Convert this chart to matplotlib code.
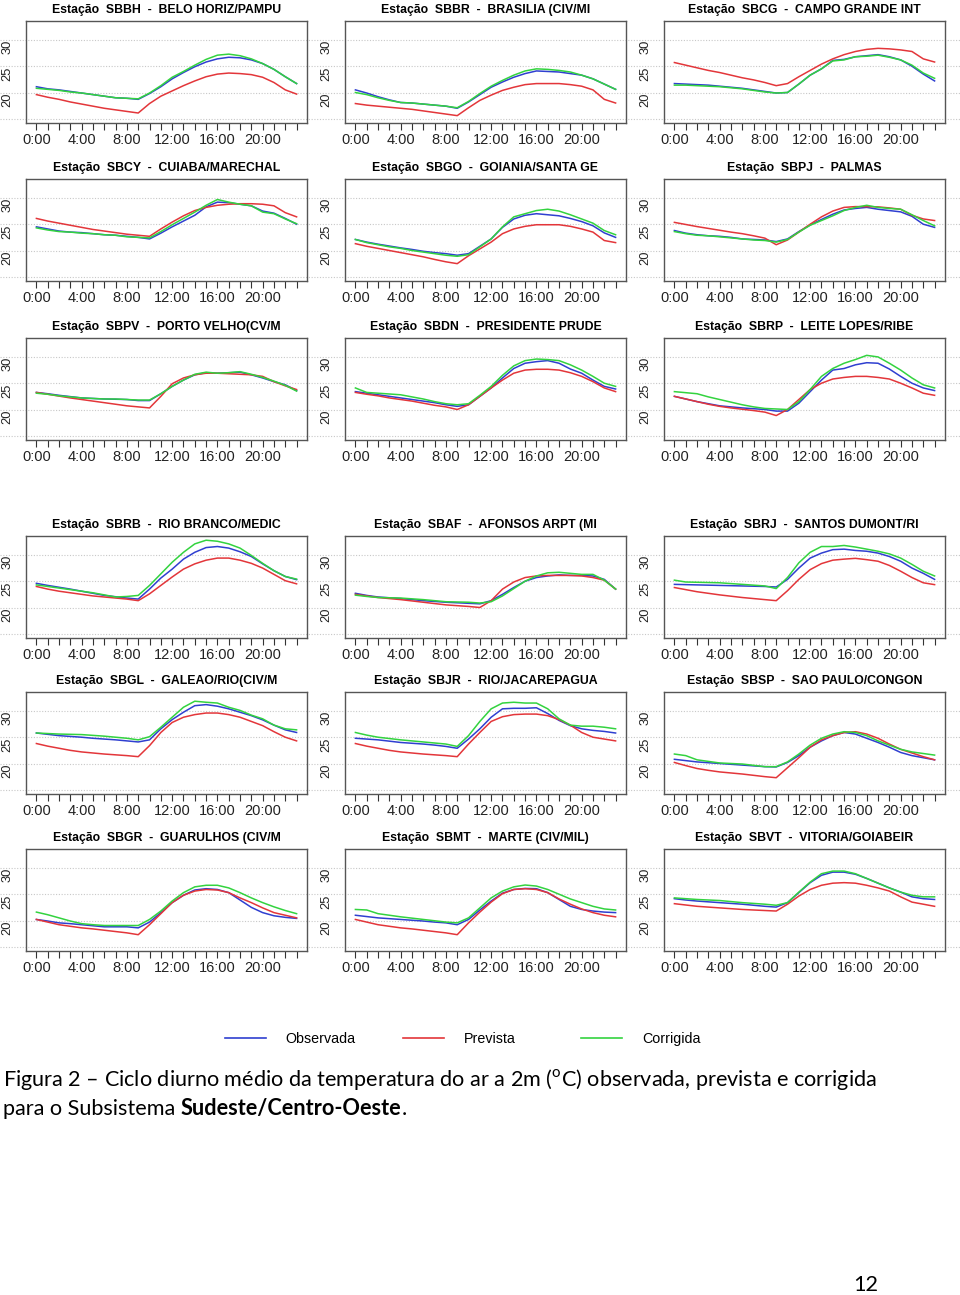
import matplotlib
matplotlib.use("Agg")
import matplotlib.pyplot as plt
import matplotlib.font_manager as fm
from matplotlib.transforms import blended_transform_factory
from matplotlib.lines import Line2D

# ---------------- data ----------------
HOURS = list(range(24))
HOUR_LABELS = [f"{h}:00" if h % 4 == 0 else "" for h in HOURS]
Y_TICKS = [20, 25, 30]
GRID_LEVELS = [16.3, 21.3, 26.4, 31.4]

TITLES = [
    "Estação  SBBH  -  BELO HORIZ/PAMPU", "Estação  SBBR  -  BRASILIA (CIV/MI", "Estação  SBCG  -  CAMPO GRANDE INT",
    "Estação  SBCY  -  CUIABA/MARECHAL", "Estação  SBGO  -  GOIANIA/SANTA GE", "Estação  SBPJ  -  PALMAS",
    "Estação  SBPV  -  PORTO VELHO(CV/M", "Estação  SBDN  -  PRESIDENTE PRUDE", "Estação  SBRP  -  LEITE LOPES/RIBE",
    "Estação  SBRB  -  RIO BRANCO/MEDIC", "Estação  SBAF  -  AFONSOS ARPT (MI", "Estação  SBRJ  -  SANTOS DUMONT/RI",
    "Estação  SBGL  -  GALEAO/RIO(CIV/M", "Estação  SBJR  -  RIO/JACAREPAGUA", "Estação  SBSP  -  SAO PAULO/CONGON",
    "Estação  SBGR  -  GUARULHOS (CIV/M", "Estação  SBMT  -  MARTE (CIV/MIL)", "Estação  SBVT  -  VITORIA/GOIABEIR",
]
SERIES_NAMES = ["Observada", "Prevista", "Corrigida"]

SBBH_OBS = [22.5,22.1,21.9,21.6,21.3,21.0,20.7,20.4,20.3,20.1,21.2,22.5,24.0,25.2,26.3,27.2,27.8,28.1,28.0,27.6,26.9,25.8,24.4,23.1]
SBBH_PREV = [21.0,20.5,20.1,19.6,19.2,18.8,18.4,18.1,17.8,17.5,19.3,20.7,21.7,22.7,23.6,24.4,24.9,25.1,25.0,24.8,24.3,23.3,21.9,21.1]
SBBH_CORR = [22.2,22.0,21.8,21.5,21.3,21.0,20.7,20.4,20.3,20.2,21.3,22.7,24.3,25.4,26.6,27.7,28.5,28.7,28.4,27.8,26.9,25.8,24.4,23.1]

SBBR_OBS = [21.9,21.3,20.6,20.0,19.5,19.4,19.2,19.0,18.8,18.4,19.6,21.0,22.4,23.4,24.3,25.0,25.5,25.4,25.3,25.0,24.7,24.0,23.0,22.0]
SBBR_PREV = [19.3,19.0,18.8,18.6,18.4,18.2,17.9,17.6,17.3,17.0,18.5,19.9,20.9,21.8,22.4,22.9,23.1,23.1,23.1,22.9,22.6,21.9,20.1,19.4]
SBBR_CORR = [21.4,21.0,20.4,19.9,19.5,19.4,19.2,19.0,18.8,18.5,19.7,21.2,22.6,23.7,24.7,25.5,25.9,25.8,25.6,25.3,24.7,24.0,23.0,22.0]

SBCG_OBS = [23.1,23.0,22.9,22.8,22.6,22.4,22.2,21.9,21.6,21.3,21.4,23.0,24.7,25.9,27.5,27.7,28.2,28.4,28.6,28.2,27.6,26.4,24.9,23.6]
SBCG_PREV = [27.1,26.6,26.1,25.6,25.2,24.7,24.2,23.8,23.3,22.7,23.1,24.4,25.6,26.8,27.8,28.6,29.2,29.6,29.8,29.7,29.5,29.2,27.8,27.2]
SBCG_CORR = [22.8,22.8,22.7,22.6,22.5,22.3,22.1,21.8,21.5,21.3,21.4,23.0,24.7,25.9,27.4,27.6,28.2,28.3,28.5,28.1,27.6,26.6,25.1,24.1]

SBCY_OBS = [25.9,25.5,25.1,24.9,24.8,24.6,24.4,24.3,24.1,23.9,23.6,24.7,25.9,27.0,28.1,29.7,30.6,30.5,30.2,29.9,28.9,28.5,27.5,26.4]
SBCY_PREV = [27.5,27.0,26.6,26.2,25.8,25.4,25.1,24.8,24.5,24.3,24.1,25.5,26.8,28.0,29.0,29.6,30.0,30.2,30.3,30.3,30.2,29.9,28.6,27.8]
SBCY_CORR = [25.7,25.3,25.0,24.9,24.7,24.6,24.4,24.3,24.0,23.9,23.8,25.0,26.3,27.5,28.7,30.0,31.1,30.6,30.2,29.9,28.7,28.4,27.4,26.5]

SBGO_OBS = [23.5,23.0,22.6,22.25,21.9,21.6,21.25,21.0,20.8,20.5,20.8,22.2,23.6,25.8,27.4,28.1,28.4,28.2,28.0,27.5,26.9,26.1,24.75,23.9]
SBGO_PREV = [22.7,22.2,21.8,21.4,21.0,20.6,20.2,19.7,19.25,18.9,20.4,21.7,23.0,24.6,25.5,26.0,26.3,26.3,26.3,26.0,25.5,24.9,23.3,22.9]
SBGO_CORR = [23.5,22.9,22.5,22.1,21.8,21.4,21.1,20.8,20.5,20.3,20.6,22.1,23.6,25.9,27.8,28.4,29.0,29.25,28.9,28.2,27.4,26.6,25.2,24.4]

SBPJ_OBS = [25.2,24.7,24.4,24.2,24.1,23.9,23.6,23.5,23.4,23.1,23.6,25.0,26.25,27.3,28.3,29.1,29.4,29.6,29.25,29.0,28.75,27.9,26.4,25.8]
SBPJ_PREV = [26.75,26.35,25.95,25.6,25.25,24.9,24.6,24.2,23.75,22.5,23.4,24.9,26.4,27.8,28.9,29.6,29.75,29.75,29.7,29.5,29.25,28.1,27.4,27.1]
SBPJ_CORR = [25.0,24.6,24.3,24.2,24.0,23.8,23.6,23.4,23.3,23.0,23.5,24.9,26.2,27.1,28.0,29.0,29.6,30.0,29.6,29.4,29.25,28.2,27.1,26.1]

SBPV_OBS = [24.65,24.4,24.1,23.85,23.6,23.5,23.4,23.35,23.3,23.1,23.1,24.4,25.8,27.0,28.0,28.4,28.3,28.4,28.5,28.0,27.4,26.7,26.1,25.0]
SBPV_PREV = [24.65,24.3,23.95,23.6,23.3,23.0,22.7,22.4,22.1,21.9,21.7,23.9,26.3,27.4,28.0,28.3,28.3,28.2,28.1,28.0,27.7,26.7,25.9,25.2]
SBPV_CORR = [24.5,24.3,24.0,23.8,23.6,23.5,23.4,23.4,23.3,23.2,23.2,24.4,25.8,27.0,28.1,28.5,28.3,28.4,28.6,28.1,27.5,26.8,26.0,24.9]

SBDN_OBS = [24.8,24.5,24.2,23.9,23.6,23.3,23.0,22.7,22.3,22.0,22.3,23.9,25.5,27.4,29.2,30.2,30.5,30.7,30.2,29.1,28.3,27.0,25.8,25.3]
SBDN_PREV = [24.65,24.3,24.0,23.6,23.3,23.0,22.6,22.2,21.9,21.4,22.3,23.9,25.5,27.0,28.3,28.9,29.05,29.05,28.9,28.4,27.7,26.7,25.5,24.8]
SBDN_CORR = [25.5,24.65,24.5,24.35,24.2,23.8,23.4,22.9,22.5,22.3,22.5,24.1,25.8,27.9,29.7,30.7,31.0,30.9,30.7,29.9,28.9,27.7,26.4,25.8]

SBRP_OBS = [23.9,23.4,22.9,22.5,22.1,21.9,21.7,21.55,21.4,21.1,21.1,22.6,24.8,27.0,28.9,29.2,29.9,30.3,30.2,29.1,27.7,26.4,25.5,25.0]
SBRP_PREV = [23.9,23.4,22.9,22.4,22.0,21.7,21.45,21.2,20.9,20.25,21.4,23.3,25.2,26.4,27.2,27.5,27.7,27.7,27.5,27.2,26.4,25.5,24.5,24.1]
SBRP_CORR = [24.8,24.6,24.4,23.8,23.3,22.8,22.3,21.9,21.6,21.5,21.4,22.9,25.2,27.7,29.2,30.2,30.9,31.7,31.4,30.2,28.9,27.4,26.1,25.5]

SBRB_OBS = [26.0,25.6,25.25,24.9,24.5,24.1,23.7,23.45,23.2,23.0,24.9,27.0,28.7,30.6,31.9,32.8,33.0,32.7,32.0,31.1,29.7,28.4,27.3,26.7]
SBRB_PREV = [25.4,24.9,24.5,24.2,23.9,23.6,23.4,23.2,23.0,22.7,24.0,25.6,27.2,28.7,29.7,30.4,30.8,30.8,30.4,29.8,28.9,27.7,26.5,25.9]
SBRB_CORR = [25.7,25.4,25.1,24.8,24.5,24.2,23.8,23.4,23.5,23.7,25.6,27.8,30.0,31.9,33.5,34.2,34.0,33.5,32.7,31.3,29.8,28.4,27.3,26.8]

SBAF_OBS = [24.1,23.7,23.4,23.25,23.1,22.9,22.7,22.55,22.4,22.3,22.2,22.1,22.7,23.9,25.2,26.4,27.1,27.4,27.6,27.5,27.5,27.4,26.75,24.9]
SBAF_PREV = [23.9,23.6,23.3,23.1,22.9,22.65,22.4,22.15,21.9,21.75,21.6,21.4,22.7,24.9,26.25,27.1,27.4,27.5,27.5,27.5,27.4,27.1,26.6,24.9]
SBAF_CORR = [23.75,23.5,23.3,23.25,23.2,23.05,22.9,22.7,22.5,22.45,22.4,22.25,22.5,23.6,25.0,26.4,27.4,28.0,28.1,27.9,27.7,27.7,26.6,24.9]

SBRJ_OBS = [25.8,25.75,25.7,25.65,25.6,25.55,25.5,25.45,25.4,25.3,26.75,28.9,30.8,31.75,32.4,32.5,32.25,32.1,31.75,31.1,30.2,28.9,27.9,26.75]
SBRJ_PREV = [25.2,24.8,24.4,24.1,23.8,23.55,23.3,23.1,22.9,22.7,24.6,26.75,28.6,29.75,30.4,30.6,30.75,30.5,30.2,29.4,28.3,27.1,26.1,25.75]
SBRJ_CORR = [26.6,26.25,26.2,26.15,26.1,25.95,25.8,25.65,25.5,25.0,27.1,29.9,31.9,33.0,33.0,33.2,32.9,32.5,32.1,31.6,30.8,29.6,28.3,27.4]

SBGL_OBS = [27.2,26.95,26.7,26.55,26.4,26.2,26.05,25.9,25.7,25.5,25.9,28.0,29.75,31.15,32.4,32.6,32.3,31.8,31.15,30.5,29.7,28.7,27.8,27.3]
SBGL_PREV = [25.2,24.7,24.3,23.9,23.6,23.4,23.2,23.05,22.9,22.7,24.8,27.3,29.2,30.2,30.7,31.0,31.0,30.7,30.2,29.4,28.6,27.45,26.4,25.7]
SBGL_CORR = [27.2,27.1,27.0,26.95,26.9,26.75,26.6,26.4,26.2,25.9,26.5,28.3,30.2,32.1,33.25,33.05,32.9,32.1,31.5,30.6,29.9,28.7,28.0,27.8]

SBJR_OBS = [26.2,26.05,25.9,25.65,25.4,25.25,25.1,24.9,24.65,24.3,26.05,28.0,30.2,31.8,31.9,31.9,32.0,30.9,29.6,28.6,28.0,27.7,27.5,27.2]
SBJR_PREV = [25.2,24.7,24.3,23.9,23.6,23.4,23.2,23.05,22.9,22.7,25.1,27.3,29.4,30.3,30.7,30.8,30.8,30.5,29.75,28.7,27.3,26.4,26.05,25.7]
SBJR_CORR = [27.3,26.8,26.4,26.15,25.9,25.7,25.5,25.3,25.1,24.65,26.7,29.4,31.8,32.9,33.05,32.9,32.9,31.8,29.9,28.7,28.5,28.5,28.3,28.0]

SBSP_OBS = [22.2,21.95,21.7,21.55,21.4,21.25,21.1,20.95,20.8,20.75,21.6,22.9,24.5,25.7,26.7,27.3,27.0,26.2,25.4,24.5,23.5,22.9,22.5,22.1]
SBSP_PREV = [21.6,21.0,20.45,20.1,19.8,19.6,19.4,19.15,18.9,18.7,20.6,22.5,24.5,25.9,26.7,27.3,27.45,27.0,26.2,25.1,24.1,23.4,22.7,22.1]
SBSP_CORR = [23.2,22.9,22.1,21.8,21.5,21.4,21.3,21.05,20.8,20.8,21.7,23.2,24.9,26.2,27.0,27.45,27.3,26.7,25.7,24.9,24.1,23.6,23.3,23.0]

SBGR_OBS = [21.6,21.3,20.95,20.8,20.6,20.4,20.2,20.2,20.2,20.0,21.1,22.9,24.8,26.2,27.2,27.45,27.3,26.7,25.3,23.9,22.9,22.3,22.0,21.8]
SBGR_PREV = [21.6,21.1,20.6,20.3,20.0,19.8,19.55,19.3,19.05,18.7,20.6,22.7,24.8,26.2,27.0,27.3,27.2,26.7,25.7,24.8,23.8,22.9,22.4,21.9]
SBGR_CORR = [23.0,22.5,21.9,21.3,20.8,20.6,20.45,20.45,20.45,20.45,21.6,23.2,25.1,26.7,27.8,28.1,28.1,27.6,26.7,25.7,24.8,24.0,23.3,22.7]

SBMT_OBS = [22.4,22.15,21.9,21.75,21.6,21.45,21.3,21.1,20.95,20.6,21.6,23.4,25.1,26.6,27.3,27.5,27.45,26.7,25.4,24.1,23.5,23.2,23.0,22.9]
SBMT_PREV = [21.6,21.1,20.6,20.3,20.0,19.8,19.55,19.3,19.05,18.7,20.95,23.0,24.9,26.5,27.3,27.45,27.3,26.7,25.5,24.5,23.6,22.9,22.4,22.1]
SBMT_CORR = [23.5,23.4,22.7,22.4,22.1,21.85,21.6,21.35,21.1,20.95,21.9,23.8,25.7,27.0,27.8,28.15,27.95,27.3,26.4,25.5,24.8,24.1,23.6,23.4]

SBVT_OBS = [25.55,25.3,25.1,24.95,24.8,24.65,24.5,24.3,24.1,23.95,24.8,26.7,28.6,30.0,30.6,30.6,30.2,29.4,28.5,27.6,26.8,25.9,25.55,25.4]
SBVT_PREV = [24.6,24.35,24.1,23.95,23.8,23.65,23.5,23.4,23.3,23.2,24.5,26.05,27.3,28.1,28.5,28.6,28.5,28.1,27.6,27.0,25.9,24.9,24.5,24.1]
SBVT_CORR = [25.7,25.55,25.4,25.3,25.2,25.0,24.8,24.65,24.5,24.3,24.8,26.8,28.7,30.3,30.8,30.8,30.3,29.4,28.5,27.6,26.8,26.2,25.9,25.9]

PANELS = [
    (SBBH_OBS, SBBH_PREV, SBBH_CORR), (SBBR_OBS, SBBR_PREV, SBBR_CORR), (SBCG_OBS, SBCG_PREV, SBCG_CORR),
    (SBCY_OBS, SBCY_PREV, SBCY_CORR), (SBGO_OBS, SBGO_PREV, SBGO_CORR), (SBPJ_OBS, SBPJ_PREV, SBPJ_CORR),
    (SBPV_OBS, SBPV_PREV, SBPV_CORR), (SBDN_OBS, SBDN_PREV, SBDN_CORR), (SBRP_OBS, SBRP_PREV, SBRP_CORR),
    (SBRB_OBS, SBRB_PREV, SBRB_CORR), (SBAF_OBS, SBAF_PREV, SBAF_CORR), (SBRJ_OBS, SBRJ_PREV, SBRJ_CORR),
    (SBGL_OBS, SBGL_PREV, SBGL_CORR), (SBJR_OBS, SBJR_PREV, SBJR_CORR), (SBSP_OBS, SBSP_PREV, SBSP_CORR),
    (SBGR_OBS, SBGR_PREV, SBGR_CORR), (SBMT_OBS, SBMT_PREV, SBMT_CORR), (SBVT_OBS, SBVT_PREV, SBVT_CORR),
]

# ---------------- style / layout ----------------
COLORS = ["#2f3fd0", "#e3363a", "#33d33f"]
W, H = 960, 1295
COL_LEFT = [26, 345, 664]
ROW_TOP = [21, 179, 338, 536, 692, 849]
BOX_W, BOX_H = 281, 102
LEGEND_X = [225, 403, 581]

avail = {f.name for f in fm.fontManager.ttflist}
NARROW = "Liberation Sans Narrow" if "Liberation Sans Narrow" in avail else "Liberation Sans"
SANS = "Liberation Sans"
CAPTION = "Lato" if "Lato" in avail else "DejaVu Sans"

plt.rcParams["mathtext.fontset"] = "custom"
plt.rcParams["mathtext.rm"] = CAPTION

fig = plt.figure(figsize=(W / 100, H / 100), dpi=100)
fig.patch.set_facecolor("white")


def rect(left, top):
    return [left / W, 1 - (top + BOX_H) / H, BOX_W / W, BOX_H / H]


for i, (title, series) in enumerate(zip(TITLES, PANELS)):
    r, c = divmod(i, 3)
    ax = fig.add_axes(rect(COL_LEFT[c], ROW_TOP[r]))
    ax.set_facecolor("none")
    for vals, col in zip(series, COLORS):
        ax.plot(HOURS, vals, color=col, lw=1.1, zorder=3)
    ax.set_xlim(-0.92, 23.92)
    ax.set_ylim(15.6, 35.0)
    ax.set_xticks(HOURS)
    ax.set_xticklabels(HOUR_LABELS, fontfamily=NARROW, fontsize=10.5, color="#222222")
    ax.set_yticks(Y_TICKS)
    ax.set_yticklabels([str(v) for v in Y_TICKS], rotation=90, va="center",
                       fontfamily=SANS, fontsize=9.3, color="#222222")
    ax.tick_params(axis="x", length=5, width=0.8, color="#333333", pad=2)
    ax.tick_params(axis="y", length=0, pad=9)
    for sp in ax.spines.values():
        sp.set_color("#555555")
        sp.set_linewidth(1.0)
    ax.set_title(title, fontfamily=SANS, fontweight="bold", fontsize=8.8, pad=6)
    if c == 0:
        tr = blended_transform_factory(fig.transFigure, ax.transData)
        for lev in GRID_LEVELS:
            ax.plot([0, 1], [lev, lev], transform=tr, clip_on=False, color="#c8c8c8",
                    lw=0.8, ls=(0, (1, 1.5)), zorder=0)

# legend: one entry per column, equally spaced as in the reference
for name, col, xl in zip(SERIES_NAMES, COLORS, LEGEND_X):
    leg = fig.legend([Line2D([], [], color=col, lw=1.2)], [name], loc="center left",
                     bbox_to_anchor=(xl / W, 1 - 1039 / H), frameon=False,
                     prop={"family": SANS, "size": 10.3}, handlelength=2.9, handletextpad=1.35,
                     borderpad=0, borderaxespad=0)

# caption
renderer = fig.canvas.get_renderer()
line1 = "Figura 2 – Ciclo diurno médio da temperatura do ar a 2m ($^{\\mathrm{o}}$C) observada, prevista e corrigida"
t1 = fig.text(3 / W, 1 - 1080 / H, line1, fontfamily=CAPTION, fontsize=14, va="center", ha="left", color="black")
w1 = t1.get_window_extent(renderer).width
fs = 14 * 875 / w1
t1.set_fontsize(fs)
t2 = fig.text(3 / W, 1 - 1109 / H, "para o Subsistema ", fontfamily=CAPTION, fontsize=fs, va="center", ha="left")
e2 = t2.get_window_extent(renderer)
t3 = fig.text(e2.x1 / W, 1 - 1109 / H, "Sudeste/Centro-Oeste", fontfamily=CAPTION, fontsize=fs,
              fontweight="bold", va="center", ha="left")
e3 = t3.get_window_extent(renderer)
fig.text(e3.x1 / W, 1 - 1109 / H, ".", fontfamily=CAPTION, fontsize=fs, va="center", ha="left")

fig.text(866 / W, 1 - 1285 / H, "12", fontfamily=CAPTION, fontsize=fs, va="center", ha="center")

fig.savefig("out.png", dpi=100, facecolor="white")
